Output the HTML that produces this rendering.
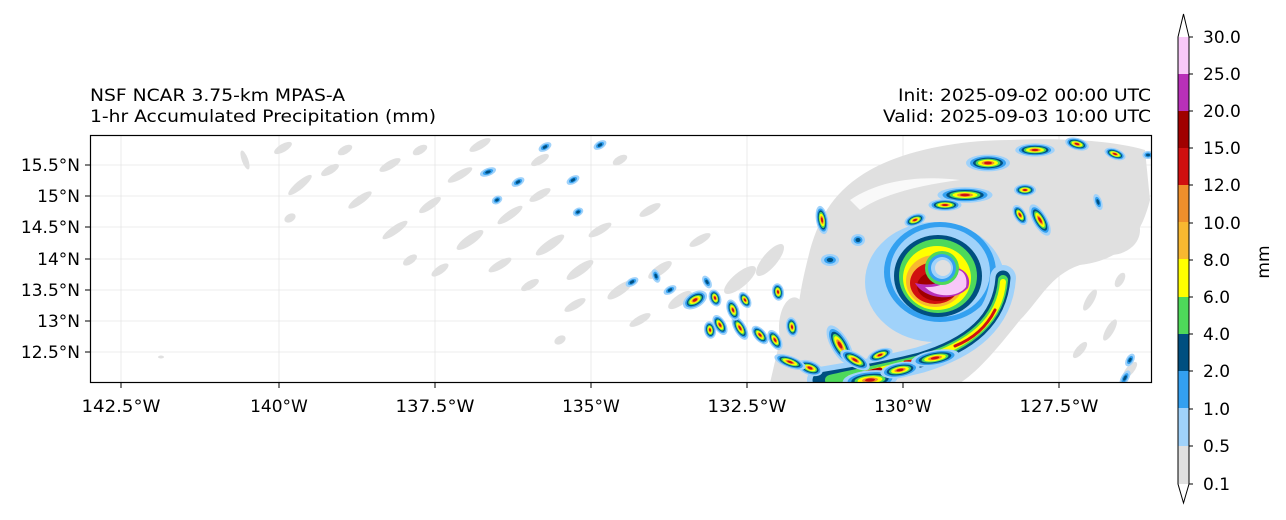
<!DOCTYPE html>
<html><head><meta charset="utf-8"><style>
html,body{margin:0;padding:0;background:#fff;}
svg{display:block;font-family:"DejaVu Sans","Liberation Sans",sans-serif;}
</style></head><body>
<svg width="1286" height="520" viewBox="0 0 1286 520" xmlns="http://www.w3.org/2000/svg">
<defs>
<clipPath id="mc"><rect x="90" y="135" width="1062" height="248"/></clipPath>
<g id="cell">
<ellipse rx="11" ry="6" fill="#a0d2fa"/>
<ellipse rx="9" ry="4.8" fill="#33a0f0"/>
<ellipse rx="7.5" ry="3.8" fill="#004f80"/>
<ellipse rx="6.2" ry="3" fill="#4ed95a"/>
<ellipse rx="5" ry="2.3" fill="#ffff00"/>
<ellipse rx="3.2" ry="1.5" fill="#ef8f2b"/>
<ellipse rx="2" ry="1" fill="#d01010"/>
</g>
<g id="wcell">
<ellipse rx="7" ry="4" fill="#a0d2fa"/>
<ellipse rx="4.5" ry="2.5" fill="#33a0f0"/>
<ellipse rx="2.5" ry="1.4" fill="#004f80"/>
</g>
<ellipse id="gb" rx="10" ry="4" fill="#e0e0e0"/>
</defs>

<text x="90" y="101" font-size="16.5" textLength="255" lengthAdjust="spacingAndGlyphs">NSF NCAR 3.75-km MPAS-A</text>
<text x="90" y="122" font-size="16.5" textLength="346" lengthAdjust="spacingAndGlyphs">1-hr Accumulated Precipitation (mm)</text>
<text x="898" y="101" font-size="16.5" textLength="253" lengthAdjust="spacingAndGlyphs">Init: 2025-09-02 00:00 UTC</text>
<text x="883" y="122" font-size="16.5" textLength="268" lengthAdjust="spacingAndGlyphs">Valid: 2025-09-03 10:00 UTC</text>

<g clip-path="url(#mc)">
<g stroke="#e6e6e6" stroke-width="0.8">
<line x1="121" y1="135" x2="121" y2="383"/><line x1="279" y1="135" x2="279" y2="383"/>
<line x1="435" y1="135" x2="435" y2="383"/><line x1="591" y1="135" x2="591" y2="383"/>
<line x1="747" y1="135" x2="747" y2="383"/><line x1="903" y1="135" x2="903" y2="383"/>
<line x1="1059" y1="135" x2="1059" y2="383"/>
<line x1="90" y1="165" x2="1152" y2="165"/><line x1="90" y1="196" x2="1152" y2="196"/>
<line x1="90" y1="227" x2="1152" y2="227"/><line x1="90" y1="259" x2="1152" y2="259"/>
<line x1="90" y1="290" x2="1152" y2="290"/><line x1="90" y1="321" x2="1152" y2="321"/>
<line x1="90" y1="352" x2="1152" y2="352"/>
</g>

<g>
<use href="#gb" transform="translate(245,160) rotate(70) scale(1,0.8)"/>
<use href="#gb" transform="translate(283,148) rotate(-30)"/>
<use href="#gb" transform="translate(300,185) rotate(-40) scale(1.5,1)"/>
<use href="#gb" transform="translate(330,170) rotate(-30)"/>
<use href="#gb" transform="translate(360,200) rotate(-35) scale(1.4,1)"/>
<use href="#gb" transform="translate(290,218) rotate(-30) scale(0.6,1)"/>
<use href="#gb" transform="translate(345,150) rotate(-30) scale(0.8,1)"/>
<use href="#gb" transform="translate(390,165) rotate(-30) scale(1.2,1)"/>
<use href="#gb" transform="translate(420,150) rotate(-30) scale(0.8,1)"/>
<use href="#gb" transform="translate(395,230) rotate(-35) scale(1.5,1)"/>
<use href="#gb" transform="translate(430,205) rotate(-35) scale(1.3,1)"/>
<use href="#gb" transform="translate(460,175) rotate(-30) scale(1.4,1)"/>
<use href="#gb" transform="translate(470,240) rotate(-35) scale(1.6,1.2)"/>
<use href="#gb" transform="translate(500,265) rotate(-30) scale(1.3,1)"/>
<use href="#gb" transform="translate(510,215) rotate(-35) scale(1.5,1)"/>
<use href="#gb" transform="translate(540,195) rotate(-30) scale(1.2,1)"/>
<use href="#gb" transform="translate(550,245) rotate(-35) scale(1.7,1.2)"/>
<use href="#gb" transform="translate(530,285) rotate(-30) scale(1,1)"/>
<use href="#gb" transform="translate(580,270) rotate(-35) scale(1.6,1.2)"/>
<use href="#gb" transform="translate(600,230) rotate(-30) scale(1.3,1)"/>
<use href="#gb" transform="translate(575,305) rotate(-30) scale(1.2,1)"/>
<use href="#gb" transform="translate(620,290) rotate(-35) scale(1.5,1.2)"/>
<use href="#gb" transform="translate(640,320) rotate(-30) scale(1.2,1)"/>
<use href="#gb" transform="translate(660,270) rotate(-35) scale(1.4,1.2)"/>
<use href="#gb" transform="translate(680,300) rotate(-35) scale(1.4,1.3)"/>
<use href="#gb" transform="translate(700,240) rotate(-30) scale(1.2,1)"/>
<use href="#gb" transform="translate(740,280) rotate(-40) scale(2,1.8)"/>
<use href="#gb" transform="translate(770,260) rotate(-50) scale(2,1.8)"/>
<use href="#gb" transform="translate(650,210) rotate(-30) scale(1.2,1)"/>
<use href="#gb" transform="translate(480,145) rotate(-30) scale(1.2,1)"/>
<use href="#gb" transform="translate(540,160) rotate(-30) scale(1,1)"/>
<use href="#gb" transform="translate(440,270) rotate(-35) scale(1,1)"/>
<use href="#gb" transform="translate(410,260) rotate(-35) scale(0.8,1)"/>
<use href="#gb" transform="translate(620,160) rotate(-30) scale(0.8,1)"/>
<use href="#gb" transform="translate(560,340) rotate(-30) scale(0.6,1)"/>
<use href="#gb" transform="translate(1090,300) rotate(-60) scale(1.2,1)"/>
<use href="#gb" transform="translate(1110,330) rotate(-60) scale(1.2,1)"/>
<use href="#gb" transform="translate(1080,350) rotate(-50) scale(1,1)"/>
<use href="#gb" transform="translate(1130,370) rotate(-50) scale(1,1)"/>
<use href="#gb" transform="translate(1120,280) rotate(-60) scale(0.8,1)"/>
</g>

<path d="M805,380 C790,330 800,290 810,250 C820,215 835,190 870,170 C905,150 960,140 1010,140 C1060,138 1110,140 1145,150 L1150,200 C1140,240 1120,260 1080,265 C1050,275 1040,300 1020,320 C1000,345 980,370 960,383 Z" fill="#e0e0e0"/>
<path d="M780,340 C775,310 790,290 800,300 L820,383 L770,383 Z" fill="#e0e0e0"/>
<ellipse cx="1110" cy="230" rx="30" ry="25" fill="#e0e0e0"/>
<path d="M850,200 C880,180 920,175 960,180 C920,185 880,195 860,210 Z" fill="#fff" opacity="0.8"/>

<ellipse cx="935" cy="282" rx="70" ry="60" fill="#a0d2fa"/>
<ellipse cx="940" cy="272" rx="56" ry="50" fill="#33a0f0"/>
<ellipse cx="940" cy="272" rx="50" ry="45" fill="#a0d2fa"/>
<ellipse cx="938" cy="276" rx="44" ry="41" fill="#004f80"/>
<ellipse cx="938" cy="276" rx="39" ry="37" fill="#4ed95a"/>
<ellipse cx="937" cy="278" rx="34" ry="32" fill="#ffff00"/>
<ellipse cx="935" cy="281" rx="29" ry="26" fill="#f8b830"/>
<ellipse cx="935" cy="283" rx="25" ry="21" fill="#d01010"/>
<ellipse cx="938" cy="286" rx="21" ry="15" fill="#a00000"/>
<path d="M915,283 C925,300 955,302 968,288 C972,278 965,268 955,268 C950,280 935,288 915,283 Z" fill="#b830b8"/>
<path d="M925,287 C935,298 958,298 966,287 C968,278 964,270 957,270 C952,281 940,288 925,287 Z" fill="#f8c8f8"/>
<circle cx="942" cy="268" r="17" fill="#4ed95a"/>
<circle cx="942" cy="268" r="14" fill="#33a0f0"/>
<circle cx="942" cy="268" r="11" fill="#a0d2fa"/>
<circle cx="943" cy="268" r="8" fill="#e0e0e0"/>

<g fill="none" stroke-linecap="round">
<path d="M1003,278 C1000,320 970,345 920,360 C880,370 850,375 820,380" stroke="#a0d2fa" stroke-width="26"/>
<path d="M1003,278 C1000,320 970,345 920,360 C880,370 850,375 820,380" stroke="#004f80" stroke-width="15"/>
<path d="M1003,280 C1000,320 970,345 920,360 C880,370 850,375 830,380" stroke="#4ed95a" stroke-width="10"/>
<path d="M1003,282 C1000,320 970,345 920,360 C890,368 870,372 850,378" stroke="#ffff00" stroke-width="6"/>
<path d="M995,310 C985,330 970,340 955,346" stroke="#d01010" stroke-width="3"/>
<path d="M940,355 C925,359 915,361 905,362" stroke="#d01010" stroke-width="3"/>
<path d="M880,370 C870,372 860,375 850,378" stroke="#a00000" stroke-width="5"/>
</g>

<use href="#cell" transform="translate(988,163) scale(2,1.4)"/>
<use href="#cell" transform="translate(1035,150) scale(1.8,1.1)"/>
<use href="#cell" transform="translate(1077,144) rotate(15) scale(1.1,1)"/>
<use href="#cell" transform="translate(1115,154) rotate(20) scale(1,0.9)"/>
<use href="#cell" transform="translate(965,195) scale(2.5,1.3)"/>
<use href="#cell" transform="translate(945,205) scale(1.5,1)"/>
<use href="#cell" transform="translate(1025,190) scale(1,1)"/>
<use href="#cell" transform="translate(1040,220) rotate(60) scale(1.6,1.2)"/>
<use href="#cell" transform="translate(1020,215) rotate(60) scale(1,1)"/>
<use href="#cell" transform="translate(915,220) rotate(-20) scale(1,1)"/>
<use href="#cell" transform="translate(822,220) rotate(80) scale(1.3,1)"/>
<use href="#wcell" transform="translate(1098,202) rotate(70) scale(1.2,1)"/>
<use href="#wcell" transform="translate(830,260) scale(1.3,1.5)"/>
<use href="#wcell" transform="translate(858,240) scale(1,1.5)"/>
<use href="#cell" transform="translate(870,380) rotate(-5) scale(2.5,1.6)"/>
<use href="#cell" transform="translate(900,370) rotate(-10) scale(1.8,1.3)"/>
<use href="#cell" transform="translate(840,345) rotate(60) scale(2,1.5)"/>
<use href="#cell" transform="translate(855,360) rotate(30) scale(1.5,1.2)"/>
<use href="#cell" transform="translate(880,355) rotate(-20) scale(1.2,1)"/>
<use href="#cell" transform="translate(935,358) rotate(-10) scale(2.2,1.3)"/>
<use href="#cell" transform="translate(810,368) rotate(20) scale(1.2,1.2)"/>
<use href="#cell" transform="translate(790,362) rotate(20) scale(1.5,1)"/>
<use href="#cell" transform="translate(775,340) rotate(60) scale(1,1)"/>
<use href="#cell" transform="translate(792,327) rotate(80) scale(0.9,1)"/>
<use href="#cell" transform="translate(760,335) rotate(50) scale(1,1)"/>
<use href="#cell" transform="translate(740,328) rotate(60) scale(1.2,1)"/>
<use href="#cell" transform="translate(733,310) rotate(70) scale(1,1)"/>
<use href="#cell" transform="translate(745,300) rotate(60) scale(0.8,0.9)"/>
<use href="#cell" transform="translate(720,325) rotate(60) scale(1,1)"/>
<use href="#cell" transform="translate(710,330) rotate(80) scale(0.8,1)"/>
<use href="#cell" transform="translate(695,300) rotate(-30) scale(1.2,1.3)"/>
<use href="#cell" transform="translate(715,298) rotate(70) scale(0.8,1)"/>
<use href="#cell" transform="translate(778,292) rotate(80) scale(0.8,1)"/>
<use href="#wcell" transform="translate(656,276) rotate(70) scale(1,1)"/>
<use href="#wcell" transform="translate(632,282) rotate(-30) scale(1,1)"/>
<use href="#wcell" transform="translate(670,290) rotate(-30) scale(1,1)"/>
<use href="#wcell" transform="translate(707,282) rotate(60) scale(1,1)"/>
<use href="#wcell" transform="translate(600,145) rotate(-30) scale(1,1)"/>
<use href="#wcell" transform="translate(545,147) rotate(-30) scale(1,1)"/>
<use href="#wcell" transform="translate(573,180) rotate(-30) scale(1,1)"/>
<use href="#wcell" transform="translate(488,172) rotate(-20) scale(1.2,1)"/>
<use href="#wcell" transform="translate(518,182) rotate(-30) scale(1,1)"/>
<use href="#wcell" transform="translate(497,200) rotate(-30) scale(0.8,1)"/>
<use href="#wcell" transform="translate(578,212) rotate(-30) scale(0.8,1)"/>
<use href="#wcell" transform="translate(1130,360) rotate(-60) scale(1,1)"/>
<use href="#wcell" transform="translate(1125,378) rotate(-60) scale(1.2,1)"/>
<use href="#wcell" transform="translate(1148,155) scale(0.8,1)"/>
<ellipse cx="161" cy="357" rx="3" ry="1.5" fill="#e0e0e0"/>
</g>

<rect x="90.5" y="135.5" width="1061" height="247" fill="none" stroke="#000" stroke-width="1.2"/>

<g stroke="#000" stroke-width="1">
<line x1="121" y1="383" x2="121" y2="388"/><line x1="279" y1="383" x2="279" y2="388"/>
<line x1="435" y1="383" x2="435" y2="388"/><line x1="591" y1="383" x2="591" y2="388"/>
<line x1="747" y1="383" x2="747" y2="388"/><line x1="903" y1="383" x2="903" y2="388"/>
<line x1="1059" y1="383" x2="1059" y2="388"/>
<line x1="85" y1="165" x2="90" y2="165"/><line x1="85" y1="196" x2="90" y2="196"/>
<line x1="85" y1="227" x2="90" y2="227"/><line x1="85" y1="259" x2="90" y2="259"/>
<line x1="85" y1="290" x2="90" y2="290"/><line x1="85" y1="321" x2="90" y2="321"/>
<line x1="85" y1="352" x2="90" y2="352"/>
</g>
<g font-size="17" text-anchor="middle">
<text x="121" y="412" textLength="79" lengthAdjust="spacingAndGlyphs">142.5°W</text><text x="279" y="412">140°W</text>
<text x="435" y="412" textLength="79" lengthAdjust="spacingAndGlyphs">137.5°W</text><text x="591" y="412">135°W</text>
<text x="747" y="412" textLength="79" lengthAdjust="spacingAndGlyphs">132.5°W</text><text x="903" y="412">130°W</text>
<text x="1059" y="412" textLength="79" lengthAdjust="spacingAndGlyphs">127.5°W</text>
</g>
<g font-size="17" text-anchor="end">
<text x="80" y="171">15.5°N</text><text x="80" y="202">15°N</text>
<text x="80" y="233">14.5°N</text><text x="80" y="265">14°N</text>
<text x="80" y="296">13.5°N</text><text x="80" y="327">13°N</text>
<text x="80" y="358">12.5°N</text>
</g>

<g>
<rect x="1178" y="37" width="11" height="38" fill="#f8c8f8"/>
<rect x="1178" y="74" width="11" height="38" fill="#b830b8"/>
<rect x="1178" y="111" width="11" height="38" fill="#a00000"/>
<rect x="1178" y="148" width="11" height="38" fill="#d01010"/>
<rect x="1178" y="185" width="11" height="38" fill="#ef8f2b"/>
<rect x="1178" y="222" width="11" height="38" fill="#f8b830"/>
<rect x="1178" y="259" width="11" height="38" fill="#ffff00"/>
<rect x="1178" y="297" width="11" height="38" fill="#4ed95a"/>
<rect x="1178" y="334" width="11" height="38" fill="#004f80"/>
<rect x="1178" y="371" width="11" height="38" fill="#33a0f0"/>
<rect x="1178" y="408" width="11" height="38" fill="#a0d2fa"/>
<rect x="1178" y="446" width="11" height="38" fill="#e0e0e0"/>
<path d="M1178,37 L1183.5,14 L1189,37 L1189,484 L1183.5,503 L1178,484 Z" fill="none" stroke="#000" stroke-width="1"/>
<g stroke="#000" stroke-width="1">
<line x1="1189" y1="37" x2="1193" y2="37"/><line x1="1189" y1="74" x2="1193" y2="74"/>
<line x1="1189" y1="111" x2="1193" y2="111"/><line x1="1189" y1="148" x2="1193" y2="148"/>
<line x1="1189" y1="185" x2="1193" y2="185"/><line x1="1189" y1="223" x2="1193" y2="223"/>
<line x1="1189" y1="260" x2="1193" y2="260"/><line x1="1189" y1="297" x2="1193" y2="297"/>
<line x1="1189" y1="334" x2="1193" y2="334"/><line x1="1189" y1="371" x2="1193" y2="371"/>
<line x1="1189" y1="409" x2="1193" y2="409"/><line x1="1189" y1="446" x2="1193" y2="446"/>
<line x1="1189" y1="484" x2="1193" y2="484"/>
</g>
<g font-size="17">
<text x="1203" y="43">30.0</text><text x="1203" y="80">25.0</text>
<text x="1203" y="117">20.0</text><text x="1203" y="154">15.0</text>
<text x="1203" y="191">12.0</text><text x="1203" y="229">10.0</text>
<text x="1203" y="266">8.0</text><text x="1203" y="303">6.0</text>
<text x="1203" y="340">4.0</text><text x="1203" y="377">2.0</text>
<text x="1203" y="415">1.0</text><text x="1203" y="452">0.5</text>
<text x="1203" y="490">0.1</text>
</g>
<text x="0" y="0" font-size="17" transform="translate(1269,262) rotate(-90)" text-anchor="middle">mm</text>
</g>
</svg>
</body></html>
